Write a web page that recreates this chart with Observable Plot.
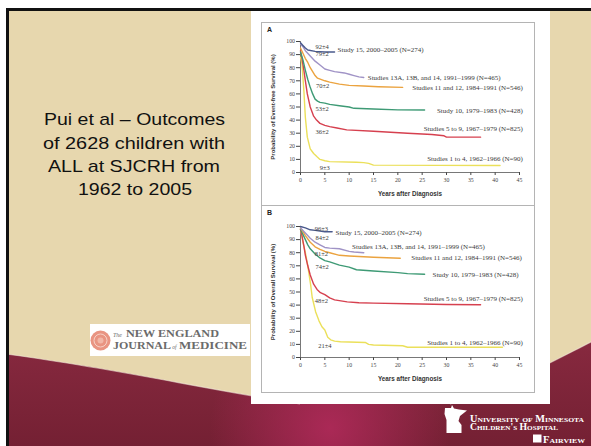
<!DOCTYPE html>
<html>
<head>
<meta charset="utf-8">
<script src="https://cdn.jsdelivr.net/npm/d3@7"></script>
<script src="https://cdn.jsdelivr.net/npm/@observablehq/plot@0.6"></script>
<style>
  body { margin: 0; background: #fff; }
  #slide { position: relative; width: 591px; height: 446px; overflow: hidden; background: #fff; }
  .abs { position: absolute; }
</style>
</head>
<body>
<div id="slide">
  <svg class="abs" width="591" height="446" style="left:0;top:0">
    <defs>
      <linearGradient id="maroon" x1="0" y1="0" x2="0" y2="1">
        <stop offset="0" stop-color="#87293f"/>
        <stop offset="1" stop-color="#742033"/>
      </linearGradient>
      <radialGradient id="sheen" cx="330" cy="428" r="120" gradientUnits="userSpaceOnUse">
        <stop offset="0" stop-color="#b02a5a" stop-opacity="0.9"/>
        <stop offset="1" stop-color="#b02a5a" stop-opacity="0"/>
      </radialGradient>
    </defs>
    <!-- slide frame and background -->
    <rect x="6" y="8" width="585" height="438" fill="#e7d7ae"/>
    <path d="M6,354 C100,366 200,388 300,404 L450,404 C500,390 540,368 591,342 L591,446 L6,446 Z" fill="url(#maroon)"/>
    <path d="M6,354 C100,366 200,388 300,404 L450,404 C500,390 540,368 591,342 L591,446 L6,446 Z" fill="url(#sheen)"/>
    <path d="M6,354 C100,366 200,388 300,404 M450,404 C500,390 540,368 591,342" fill="none" stroke="#f6eee2" stroke-opacity="0.55" stroke-width="1.2"/>
    <path d="M7.5,446 L7.5,9.5 L591,9.5" fill="none" stroke="#111" stroke-width="3"/>

    <!-- slide title -->
    <g font-family="Liberation Sans, Arial, sans-serif" font-size="17" fill="#111" text-anchor="middle">
      <text x="134.5" y="125" textLength="181" lengthAdjust="spacingAndGlyphs">Pui et al – Outcomes</text>
      <text x="134" y="148.5" textLength="182" lengthAdjust="spacingAndGlyphs">of 2628 children with</text>
      <text x="134" y="172" textLength="172" lengthAdjust="spacingAndGlyphs">ALL at SJCRH from</text>
      <text x="135" y="195" textLength="114" lengthAdjust="spacingAndGlyphs">1962 to 2005</text>
    </g>

    <!-- journal masthead -->
    <rect x="90" y="324" width="160" height="32" fill="#fff"/>
    <circle cx="100.5" cy="340.5" r="10" fill="#e99482"/>
    <circle cx="100.5" cy="340.5" r="6.5" fill="none" stroke="#f7d2c8" stroke-width="1"/>
    <circle cx="100.5" cy="340.5" r="3" fill="#f2b7a8"/>
    <g font-family="Liberation Serif, serif" fill="#6b6b6b">
      <text x="113" y="336.5" font-size="6" font-style="italic">The</text>
      <text x="126" y="336.5" font-size="9.5" font-weight="bold" textLength="93" lengthAdjust="spacingAndGlyphs">NEW ENGLAND</text>
      <text x="113" y="348.5" font-size="9.5" font-weight="bold" textLength="58" lengthAdjust="spacingAndGlyphs">JOURNAL</text>
      <text x="172.3" y="348.5" font-size="5.5" font-style="italic">of</text>
      <text x="179" y="348.5" font-size="9.5" font-weight="bold" textLength="68" lengthAdjust="spacingAndGlyphs">MEDICINE</text>
    </g>

    <!-- hospital logo -->
    <path d="M445,408 L451,408 L452,405 L454,408.5 L459,409.5 L467,410.5 L460,416 L458.5,421 L461.5,425 L461.5,433 L446.5,433 L446.5,420 L444.5,414 Z" fill="#fff"/>
    <g font-family="Liberation Serif, serif" font-weight="bold" fill="#fff" font-variant="small-caps">
      <text x="470" y="421.5" font-size="9.5" textLength="114" lengthAdjust="spacingAndGlyphs">University of Minnesota</text>
      <text x="470" y="430" font-size="9.5" textLength="88" lengthAdjust="spacingAndGlyphs">Children's Hospital</text>
      <rect x="533" y="434.5" width="8.5" height="8" fill="#fff"/>
      <text x="543" y="442.5" font-size="9.5" textLength="42" lengthAdjust="spacingAndGlyphs">Fairview</text>
    </g>
  </svg>

  <div class="abs" style="left:251px;top:11px;width:299px;height:393px;background:#fff"></div>
  <div class="abs" style="left:261px;top:22px;width:274px;height:371px;border:1px solid #b4b4b4;box-sizing:border-box"></div>
  <div class="abs" style="left:261px;top:205px;width:274px;height:1px;background:#b4b4b4"></div>
  <div class="abs" id="panelA" style="left:261px;top:22px"></div>
  <div class="abs" id="panelB" style="left:261px;top:205px"></div>
</div>

<script>
// Treatment eras at St. Jude, newest first
const studies = ["15", "13A-14", "11-12", "10", "5-9", "1-4"];
const studyLabels = [
  "Study 15, 2000–2005 (N=274)",
  "Studies 13A, 13B, and 14, 1991–1999 (N=465)",
  "Studies 11 and 12, 1984–1991 (N=546)",
  "Study 10, 1979–1983 (N=428)",
  "Studies 5 to 9, 1967–1979 (N=825)",
  "Studies 1 to 4, 1962–1966 (N=90)"
];
const studyColors = ["#4a5a8c", "#a093c6", "#eba33f", "#3e9a75", "#d6404f", "#ebe05a"];

// Event-free survival, [years after diagnosis, percent]
const efsStudy15   = [[0,99],[0.5,97],[1,95],[1.5,93.5],[3,92.5],[5,92],[7,92]];
const efsStudies13 = [[0,98],[0.5,96],[1,93],[2,89],[3,85],[4,82],[5,79],[6,78],[7,77],[9,76],[10,75],[11,74],[12,73],[13,72.5]];
const efsStudies11 = [[0,95],[0.5,91],[1,87],[1.5,84],[2,80],[2.5,77],[3,74],[3.5,72],[5,70],[6,69],[8,67.5],[10,66.5],[13,66],[16,65.5],[21,65]];
const efsStudy10   = [[0,92],[0.5,86],[1,78],[1.5,71],[2,65],[2.5,60],[3,56],[3.5,54.5],[4,53.5],[5,53],[6,52],[8,51],[10,50],[11,49],[15,48.5],[20,47.8],[25.5,47.7]];
const efsStudies5  = [[0,93],[0.3,87],[0.7,78],[1,70],[1.4,60],[2,50],[2.7,43],[3.3,40],[4,37.5],[5,36],[6,35],[7.5,34],[9.5,32.5],[15,31.5],[22,30],[27,29],[29.5,28],[30,27],[37,27]];
const efsStudies1  = [[0,88],[0.3,83],[0.7,62],[1,42],[1.4,27],[2,18],[2.4,16],[2.7,14.5],[3.4,12],[4,10],[5,9],[6,8.3],[11.5,7.8],[13,7.5],[14,7],[15,5.6],[41,5.3]];
const efsAt5   = [92, 79, 70, 53, 36, 9];
const efsAt5SE = [4, 2, 2, 2, 2, 3];

// Overall survival, [years after diagnosis, percent]
const osStudy15   = [[0,100],[1,99],[2,97.5],[3,97],[5,96],[6.5,96]];
const osStudies13 = [[0,99],[0.5,97],[1,95],[2,91],[3,88],[4,86],[5,84],[6,83.5],[8,83],[10,81],[11,80.5],[13,80]];
const osStudies11 = [[0,99],[0.5,96],[1,93],[2,88],[3,84.5],[4,82.5],[5,81],[6,80],[8,78],[10,77.5],[15,76.5],[20.5,75.8]];
const osStudy10   = [[0,98],[0.5,94],[1,90],[1.5,86],[2,83],[3,79],[4,76],[5,74],[6,73],[8,70.5],[10,69],[11.5,67],[15,66],[20,64.8],[22,64],[25.5,63.5]];
const osStudies5  = [[0,98],[0.3,93],[0.7,85],[1,78],[1.5,70],[2,63],[2.7,56],[3.4,52],[4.1,49.5],[5,48],[6,45.5],[7,44],[9.6,42.5],[12,41.8],[15,41.5],[22,41],[30,40.5],[37,40.3]];
const osStudies1  = [[0,98],[0.5,88],[1,80],[1.4,72],[1.7,65],[2.1,55],[2.4,46],[3.1,35],[3.8,28],[4.4,23.5],[5,21],[5.6,15.5],[6.2,13.5],[7,12.5],[8.2,12],[13.3,11.5],[14,10],[15,9.5],[21,9],[22,7.8],[41.5,7.8]];
const osAt5   = [96, 84, 81, 74, 48, 21];
const osAt5SE = [3, 2, 2, 2, 2, 4];

const estimateYear = 5;
const yearTicks = [0, 5, 10, 15, 20, 25, 30, 35, 40, 45];
const percentTicks = [0, 10, 20, 30, 40, 50, 60, 70, 80, 90, 100];

// Label placement: "start" labels sit after the curve's end, "end" labels hug the right edge
const efsLabelPlacement = [
  {anchor: "start", dx: 3, dy: -2},
  {anchor: "start", dx: 4, dy: 0},
  {anchor: "end", dx: 3.4, dy: 0},
  {anchor: "end", dx: 3.4, dy: 1},
  {anchor: "end", dx: 3.4, dy: -8},
  {anchor: "end", dx: 3.4, dy: -6.5}
];
const osLabelPlacement = [
  {anchor: "start", dx: 3.4, dy: 1},
  {anchor: "start", dx: -11.7, dy: -5.5},
  {anchor: "end", dx: 2.4, dy: 0},
  {anchor: "end", dx: -1, dy: 0.3},
  {anchor: "end", dx: 3.4, dy: -5.6},
  {anchor: "end", dx: 3.4, dy: -4.8}
];
const efsEstimateNudge = [[-2.7, -5], [-2.7, -15], [-2.2, 5], [-2.7, 6], [-2.7, 7], [0, 7]];
const osEstimateNudge  = [[-3.4, -3], [-2.7, -10], [-3.4, 2.5], [-2.7, 6], [-3.4, 6], [0, 16]];

const serif = "Liberation Serif, Times New Roman, serif";
const sans = "Liberation Sans, Arial, sans-serif";
const ink = "#3a3a3a";

function survivalPanel({curves, at5, at5SE, letter, yTitle, height, marginTop, marginBottom, placement, nudges}) {
  const order = d3.range(curves.length).reverse();
  const rows = order.flatMap(i => curves[i].map(([t, s]) => ({study: studies[i], t, s})));

  const seriesLabels = curves.map((c, i) => {
    const [t, s] = c[c.length - 1];
    const p = placement[i];
    const common = {text: () => studyLabels[i], fontFamily: serif, fontSize: 7, fill: ink, dx: p.dx, dy: p.dy};
    return p.anchor === "start"
      ? Plot.text([{t, s}], {x: "t", y: "s", textAnchor: "start", ...common})
      : Plot.text([{s}], {y: "s", frameAnchor: "right", textAnchor: "end", ...common});
  });

  const estimates = at5.map((v, i) =>
    Plot.text([{t: estimateYear, s: v}], {
      x: "t", y: "s", text: () => `${v}±${at5SE[i]}`,
      fontFamily: serif, fontSize: 6.5, fill: ink, dx: nudges[i][0], dy: nudges[i][1]
    })
  );

  return Plot.plot({
    width: 274,
    height,
    marginLeft: 39,
    marginRight: 16,
    marginTop,
    marginBottom,
    style: {fontFamily: serif, fontSize: "5.8px", color: "#444", background: "transparent", overflow: "visible"},
    x: {domain: [0, 45], ticks: yearTicks, tickSize: 3, tickPadding: 2, label: null},
    y: {domain: [0, 100], ticks: percentTicks, tickSize: 4, tickPadding: 1.5, label: null},
    color: {domain: studies, range: studyColors},
    marks: [
      Plot.ruleX([0], {stroke: "#555", strokeWidth: 0.8}),
      Plot.ruleY([0], {stroke: "#555", strokeWidth: 0.8}),
      Plot.line(rows, {x: "t", y: "s", z: "study", stroke: "study", strokeWidth: 1.4, curve: "linear"}),
      ...estimates,
      ...seriesLabels,
      Plot.text([letter], {text: d => d, frameAnchor: "top-left", textAnchor: "start", lineAnchor: "top",
        dx: -33.5, dy: marginTop === 19 ? -14 : -16, fontFamily: sans, fontWeight: "bold", fontSize: 7, fill: "#222"}),
      Plot.text([yTitle], {text: d => d, frameAnchor: "left", rotate: -90, textAnchor: "middle", lineAnchor: "middle",
        dx: -27, fontFamily: sans, fontWeight: "bold", fontSize: 6, fill: "#333"}),
      Plot.text(["Years after Diagnosis"], {text: d => d, frameAnchor: "bottom", textAnchor: "middle", lineAnchor: "middle",
        dy: 21, fontFamily: sans, fontWeight: "bold", fontSize: 6.3, fill: "#333"})
    ]
  });
}

document.getElementById("panelA").append(survivalPanel({
  curves: [efsStudy15, efsStudies13, efsStudies11, efsStudy10, efsStudies5, efsStudies1],
  at5: efsAt5, at5SE: efsAt5SE, letter: "A",
  yTitle: "Probability of Event-free Survival (%)",
  height: 183, marginTop: 19, marginBottom: 33,
  placement: efsLabelPlacement, nudges: efsEstimateNudge
}));

document.getElementById("panelB").append(survivalPanel({
  curves: [osStudy15, osStudies13, osStudies11, osStudy10, osStudies5, osStudies1],
  at5: osAt5, at5SE: osAt5SE, letter: "B",
  yTitle: "Probability of Overall Survival (%)",
  height: 187, marginTop: 21, marginBottom: 35,
  placement: osLabelPlacement, nudges: osEstimateNudge
}));
</script>
</body>
</html>
